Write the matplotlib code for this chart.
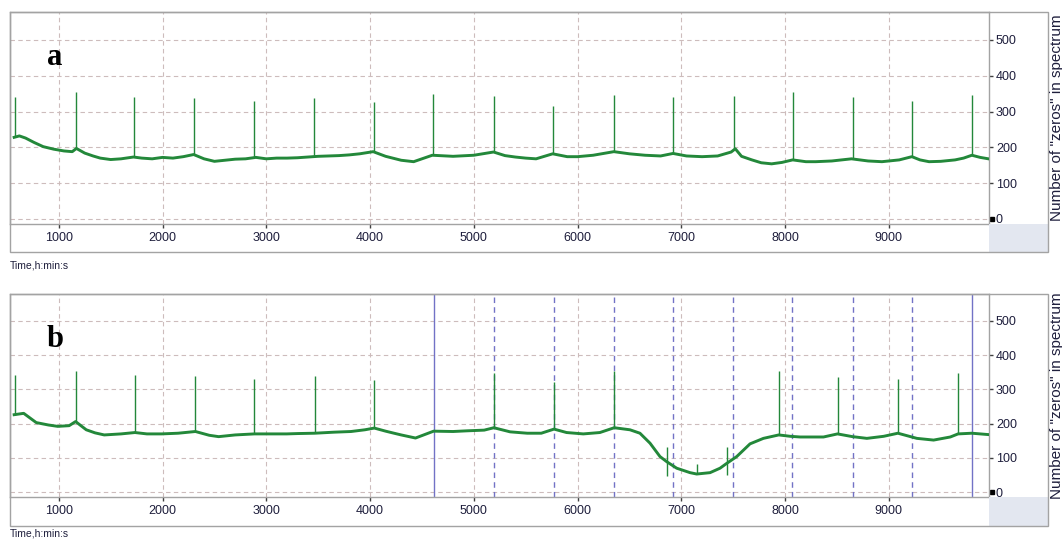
import numpy as np
import matplotlib
matplotlib.use("Agg")
import matplotlib.pyplot as plt
from matplotlib.patches import Rectangle
from matplotlib.transforms import blended_transform_factory

plt.rcParams['font.family'] = ['Liberation Sans', 'DejaVu Sans']

W, H = 1062, 541

# ------------------------------------------------------------
# data
# ------------------------------------------------------------
# panel a: slow trace (time s, zeros count)
a_t = [570, 620, 680, 760, 850, 950, 1050, 1130, 1170, 1250, 1330, 1400, 1500, 1600,
       1720, 1800, 1900, 2000, 2100, 2200, 2300, 2400, 2500, 2600, 2700, 2800, 2900,
       3000, 3100, 3200, 3300, 3400, 3500, 3600, 3700, 3800, 3900, 4030, 4150, 4300,
       4420, 4600, 4800, 5000, 5190, 5300, 5400, 5500, 5600, 5760, 5900, 6000, 6150,
       6350, 6500, 6650, 6800, 6920, 7050, 7200, 7350, 7480, 7520, 7580, 7680, 7770,
       7870, 7970, 8073, 8200, 8295, 8450, 8640, 8800, 8933, 9100, 9222, 9300, 9387,
       9500, 9638, 9720, 9800, 9880, 9960]
a_v = [228, 232, 226, 214, 202, 195, 190, 188, 197, 184, 176, 170, 166, 168,
       173, 170, 168, 172, 170, 174, 180, 168, 161, 164, 167, 168, 172,
       168, 170, 170, 171, 173, 175, 176, 177, 179, 182, 188, 175, 164,
       160, 178, 175, 178, 187, 177, 173, 170, 168, 182, 174, 174, 178,
       188, 182, 178, 176, 183, 176, 174, 176, 187, 196, 175, 165, 157,
       154, 158, 165, 160, 160, 162, 168, 162, 160, 165, 174, 165, 160,
       161, 165, 170, 178, 172, 168]
a_spk_t = [575, 1165, 1725, 2305, 2885, 3464, 4034, 4604, 5194, 5764, 6353, 6923,
           7512, 8073, 8653, 9223, 9802]
a_spk_top = [341, 355, 341, 338, 330, 338, 327, 349, 343, 316, 346, 341,
             343, 355, 341, 330, 346]
a_spk_base = [228, 197, 173, 180, 172, 173, 188, 178, 187, 182, 188, 183,
              196, 165, 168, 174, 178]

# panel b
b_t = [570, 662, 783, 900, 990, 1100, 1162, 1265, 1350, 1438, 1600, 1734, 1850, 1990,
       2150, 2317, 2450, 2541, 2700, 2886, 3050, 3197, 3300, 3466, 3650, 3817, 3950,
       4041, 4150, 4231, 4300, 4438, 4613, 4800, 4935, 5100, 5193, 5350, 5515, 5650,
       5773, 5894, 6055, 6215, 6353, 6505, 6601, 6698, 6794, 6859, 6955, 7084, 7148,
       7277, 7373, 7437, 7534, 7662, 7791, 7939, 8050, 8145, 8370, 8505, 8650, 8788,
       8950, 9087, 9270, 9431, 9592, 9667, 9800, 9960]
b_v = [226, 230, 203, 196, 192, 194, 206, 182, 173, 167, 170, 174, 170, 170,
       172, 177, 166, 162, 167, 170, 170, 170, 171, 172, 175, 177, 182,
       187, 178, 172, 167, 158, 178, 177, 179, 181, 188, 176, 172, 172,
       184, 174, 170, 174, 188, 182, 172, 143, 104, 89, 70, 57, 53,
       57, 70, 84, 104, 141, 157, 167, 163, 161, 161, 170, 162, 157,
       163, 172, 157, 152, 161, 170, 172, 168]
b_spk_t = [575, 1162, 1734, 2317, 2886, 3466, 4041, 5193, 5773, 6353, 7939, 8505, 9087, 9667]
b_spk_top = [342, 354, 342, 338, 330, 338, 326, 348, 320, 353, 353, 337, 329, 347]
b_spk_base = [226, 206, 174, 177, 170, 172, 187, 188, 184, 188, 167, 170, 172, 170]
# small spikes inside the dip
b_dip_t = [6859, 7148, 7437]
b_dip_lo = [46, 53, 50]
b_dip_hi = [133, 83, 133]

# marker lines in panel b
b_solid = [4613, 9800]
b_dashed = [5193, 5773, 6350, 6920, 7500, 8070, 8650, 9225]

x_ticks = [1000, 2000, 3000, 4000, 5000, 6000, 7000, 8000, 9000]
y_ticks = [0, 100, 200, 300, 400, 500]

# ------------------------------------------------------------
# style
# ------------------------------------------------------------
GREEN = '#23883a'
FRAME = '#a3a3a3'
GRID = '#cdbcbc'
TXT = '#1e1e3c'
BLUE = '#7272c6'
BOX = '#e3e7f0'


def fx(px):
    return px / W


def fy(py):
    return 1 - py / H


fig = plt.figure(figsize=(W / 100, H / 100), dpi=100)
fig.patch.set_facecolor('white')

# pixel geometry of each panel: (plot top, plot bottom, strip bottom, time label y)
PANELS = {'a': (12, 224, 252, 265), 'b': (294, 497, 526, 534)}
LEFT, RIGHT, OUTER = 10, 989, 1048


def make_panel(name, t, v, spk_t, spk_top, spk_base):
    top, bot, strip, ty = PANELS[name]
    ax = fig.add_axes([fx(LEFT), fy(bot), fx(RIGHT) - fx(LEFT), fy(top) - fy(bot)])
    ax.set_xlim(530, 9965)
    ax.set_ylim(-14, 578)

    ax.plot(t, v, color=GREEN, lw=2.1, solid_joinstyle='round', zorder=3)
    ax.vlines(spk_t, spk_base, spk_top, color=GREEN, lw=1.0, zorder=3)

    ax.set_xticks(x_ticks)
    ax.set_yticks(y_ticks)
    ax.grid(True, color=GRID, ls=(0, (4, 3)), lw=0.8)
    ax.yaxis.tick_right()
    ax.tick_params(axis='x', direction='out', length=3, width=1, color='#404040',
                   labelsize=9, labelcolor=TXT, pad=3)
    ax.tick_params(axis='y', direction='out', length=3, width=1, color='#404040',
                   labelsize=9, labelcolor=TXT, pad=2)
    for s in ax.spines.values():
        s.set_color(FRAME)
        s.set_linewidth(1)

    # black square on the zero tick
    tr = blended_transform_factory(ax.transAxes, ax.transData)
    ax.plot([1.003], [0], marker='s', ms=2.5, color='black', transform=tr, clip_on=False)

    # tick strip frame and grey corner box
    fig.add_artist(Rectangle((fx(RIGHT), fy(strip)), fx(OUTER) - fx(RIGHT), fy(bot) - fy(strip),
                             transform=fig.transFigure, facecolor=BOX, edgecolor='none'))
    fig.add_artist(Rectangle((fx(LEFT), fy(strip)), fx(OUTER) - fx(LEFT), fy(top) - fy(strip),
                             transform=fig.transFigure, facecolor='none', edgecolor=FRAME, lw=1))

    fig.text(fx(LEFT), fy(ty), 'Time,h:min:s', fontsize=7.5, color=TXT,
             ha='left', va='center')
    fig.text(fx(1050), fy((top + bot) / 2), 'Number of "zeros" in spectrum', fontsize=11,
             color=TXT, rotation=90, ha='left', va='center')
    fig.text(fx(47), fy(top + 53), name, fontsize=22, fontweight='bold',
             family=['Liberation Serif', 'DejaVu Serif'], ha='left', va='baseline')
    return ax


ax_a = make_panel('a', a_t, a_v, a_spk_t, a_spk_top, a_spk_base)
ax_b = make_panel('b', b_t, b_v, b_spk_t, b_spk_top, b_spk_base)

ax_b.vlines(b_dip_t, b_dip_lo, b_dip_hi, color=GREEN, lw=1.0, zorder=3)
for x in b_solid:
    ax_b.axvline(x, color=BLUE, lw=1.0, zorder=2)
for x in b_dashed:
    ax_b.axvline(x, color=BLUE, lw=1.0, ls=(0, (4, 3)), zorder=2)

fig.savefig('out.png', dpi=100, facecolor='white')
